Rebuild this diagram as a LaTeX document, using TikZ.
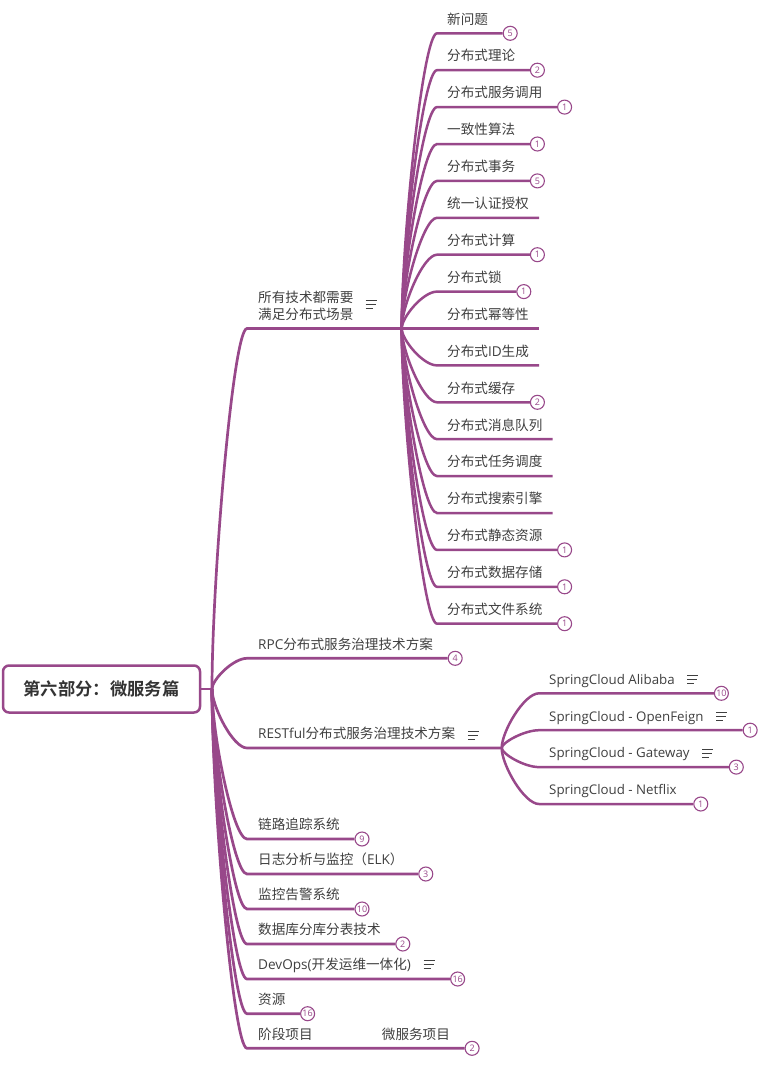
\documentclass[tikz,border=0pt]{standalone}
\usepackage{fontspec}
\setmainfont{Noto Sans CJK SC}[BoldFont={Noto Sans CJK SC Bold}]
\newfontfamily\latin{Open Sans}
\usepackage{tikz}
\usetikzlibrary{positioning, calc}

\definecolor{mindpurple}{RGB}{152,72,138}
\definecolor{topictext}{HTML}{3F3F3F}
\definecolor{roottext}{HTML}{333333}

\tikzset{
  topicbase/.style={anchor=south west, inner xsep=10pt, text=topictext,
    font=\fontsize{13.6}{17}\selectfont},
  topic/.style={topicbase, inner ysep=6pt, text height=10pt, text depth=3pt},
  maintopic/.style={topic, inner xsep=11pt},
  springtopic/.style={topic, font=\latin\fontsize{13.3}{17}\selectfont},
  rootbox/.style={draw=mindpurple, line width=2.5pt, rounded corners=6pt, fill=white,
    minimum width=197pt, minimum height=47pt, text=roottext,
    font=\bfseries\fontsize{17.3}{20}\selectfont},
  branch/.style={draw=mindpurple, line width=2.7pt},
  subbranch/.style={draw=mindpurple, line width=2.5pt},
  mindcurve/.style={to path={.. controls ($(\tikztostart)!0.3!(\tikztostart |- \tikztotarget)$)
    and ($(\tikztostart |- \tikztotarget)!0.6!(\tikztotarget)$) .. (\tikztotarget)}},
  count/.style={circle, draw=mindpurple, fill=white, line width=1.1pt, minimum size=14pt,
    inner sep=0pt, text=mindpurple, font=\latin\fontsize{9}{9}\selectfont},
  noteicon/.pic={\draw[topictext, line width=1pt] (0,-4) -- (11,-4) (0,0) -- (10,0) (0,4) -- (7,4);}
}

\begin{document}
\begin{tikzpicture}[x=1pt, y=-1pt]
  \useasboundingbox (0,0) rectangle (779,1070);

  % Root
  \node[rootbox] (root) at (101.5,689) {第六部分：微服务篇};
  \coordinate (trunk) at (212,689);
  \draw[branch] (root.east) -- (trunk);

  % Distributed scenes
  \node[topicbase, inner xsep=11pt, inner ysep=7.5pt, align=left] (scene) at (247,328.5) {所有技术都需要\\满足分布式场景};
  \coordinate (scenehub) at (401.7,328.5);
  \draw[branch] (trunk) to[mindcurve] (scene.south west) -- (scenehub);
  \pic at ([shift={(1,-24.5)}]scene.south east) {noteicon};

  \node[topic] (newq) at (437,33.3) {新问题};
  \node[count] (newqc) at ([xshift=12pt]newq.south east) {5};
  \draw[subbranch] (scenehub) to[mindcurve] (newq.south west) -- (newqc.west);
  \node[topic] (theory) at (437,70.2) {分布式理论};
  \node[count] (theoryc) at ([xshift=12pt]theory.south east) {2};
  \draw[subbranch] (scenehub) to[mindcurve] (theory.south west) -- (theoryc.west);
  \node[topic] (call) at (437,107.1) {分布式服务调用};
  \node[count] (callc) at ([xshift=12pt]call.south east) {1};
  \draw[subbranch] (scenehub) to[mindcurve] (call.south west) -- (callc.west);
  \node[topic] (consensus) at (437,144.0) {一致性算法};
  \node[count] (consensusc) at ([xshift=12pt]consensus.south east) {1};
  \draw[subbranch] (scenehub) to[mindcurve] (consensus.south west) -- (consensusc.west);
  \node[topic] (tx) at (437,180.9) {分布式事务};
  \node[count] (txc) at ([xshift=12pt]tx.south east) {5};
  \draw[subbranch] (scenehub) to[mindcurve] (tx.south west) -- (txc.west);
  \node[topic] (auth) at (437,217.8) {统一认证授权};
  \draw[subbranch] (scenehub) to[mindcurve] (auth.south west) -- (auth.south east);
  \node[topic] (compute) at (437,254.7) {分布式计算};
  \node[count] (computec) at ([xshift=12pt]compute.south east) {1};
  \draw[subbranch] (scenehub) to[mindcurve] (compute.south west) -- (computec.west);
  \node[topic] (lock) at (437,291.6) {分布式锁};
  \node[count] (lockc) at ([xshift=12pt]lock.south east) {1};
  \draw[subbranch] (scenehub) to[mindcurve] (lock.south west) -- (lockc.west);
  \node[topic] (idem) at (437,328.5) {分布式幂等性};
  \draw[subbranch] (scenehub) -- (idem.south west) -- (idem.south east);
  \node[topic] (idgen) at (437,365.4) {分布式{\latin ID}生成};
  \draw[subbranch] (scenehub) to[mindcurve] (idgen.south west) -- (idgen.south east);
  \node[topic] (cache) at (437,402.3) {分布式缓存};
  \node[count] (cachec) at ([xshift=12pt]cache.south east) {2};
  \draw[subbranch] (scenehub) to[mindcurve] (cache.south west) -- (cachec.west);
  \node[topic] (mq) at (437,439.2) {分布式消息队列};
  \draw[subbranch] (scenehub) to[mindcurve] (mq.south west) -- (mq.south east);
  \node[topic] (sched) at (437,476.1) {分布式任务调度};
  \draw[subbranch] (scenehub) to[mindcurve] (sched.south west) -- (sched.south east);
  \node[topic] (search) at (437,513.0) {分布式搜索引擎};
  \draw[subbranch] (scenehub) to[mindcurve] (search.south west) -- (search.south east);
  \node[topic] (static) at (437,549.9) {分布式静态资源};
  \node[count] (staticc) at ([xshift=12pt]static.south east) {1};
  \draw[subbranch] (scenehub) to[mindcurve] (static.south west) -- (staticc.west);
  \node[topic] (store) at (437,586.8) {分布式数据存储};
  \node[count] (storec) at ([xshift=12pt]store.south east) {1};
  \draw[subbranch] (scenehub) to[mindcurve] (store.south west) -- (storec.west);
  \node[topic] (fs) at (437,623.7) {分布式文件系统};
  \node[count] (fsc) at ([xshift=12pt]fs.south east) {1};
  \draw[subbranch] (scenehub) to[mindcurve] (fs.south west) -- (fsc.west);

  % RPC
  \node[maintopic] (rpc) at (247,658.3) {{\latin RPC}分布式服务治理技术方案};
  \node[count] (rpcc) at ([xshift=11pt]rpc.south east) {4};
  \draw[branch] (trunk) to[mindcurve] (rpc.south west) -- (rpcc.west);

  % RESTful and SpringCloud
  \node[maintopic] (rest) at (247,748) {{\latin RESTful}分布式服务治理技术方案};
  \coordinate (resthub) at (501.7,748);
  \draw[branch] (trunk) to[mindcurve] (rest.south west) -- (resthub);
  \pic at ([shift={(1.5,-13)}]rest.south east) {noteicon};

  \node[springtopic] (alibaba) at (539,693.3) {SpringCloud Alibaba};
  \pic at ([shift={(2.5,-14)}]alibaba.south east) {noteicon};
  \node[count] (alibabac) at ([xshift=36.5pt]alibaba.south east) {10};
  \draw[subbranch] (resthub) to[mindcurve] (alibaba.south west) -- (alibabac.west);
  \node[springtopic] (feign) at (539,730.2) {SpringCloud - OpenFeign};
  \pic at ([shift={(2.5,-14)}]feign.south east) {noteicon};
  \node[count] (feignc) at ([xshift=36.5pt]feign.south east) {1};
  \draw[subbranch] (resthub) to[mindcurve] (feign.south west) -- (feignc.west);
  \node[springtopic] (gateway) at (539,767.1) {SpringCloud - Gateway};
  \pic at ([shift={(2.5,-14)}]gateway.south east) {noteicon};
  \node[count] (gatewayc) at ([xshift=36.5pt]gateway.south east) {3};
  \draw[subbranch] (resthub) to[mindcurve] (gateway.south west) -- (gatewayc.west);
  \node[springtopic] (netflix) at (539,804.0) {SpringCloud - Netflix};
  \node[count] (netflixc) at ([xshift=14pt]netflix.south east) {1};
  \draw[subbranch] (resthub) to[mindcurve] (netflix.south west) -- (netflixc.west);

  % Lower topics
  \node[maintopic] (trace) at (247,839) {链路追踪系统};
  \node[count] (tracec) at ([xshift=11pt]trace.south east) {9};
  \draw[branch] (trunk) to[mindcurve] (trace.south west) -- (tracec.west);
  \node[maintopic] (elk) at (247,874) {日志分析与监控（{\latin ELK}）};
  \node[count] (elkc) at ([xshift=11pt]elk.south east) {3};
  \draw[branch] (trunk) to[mindcurve] (elk.south west) -- (elkc.west);
  \node[maintopic] (alarm) at (247,909) {监控告警系统};
  \node[count] (alarmc) at ([xshift=11pt]alarm.south east) {10};
  \draw[branch] (trunk) to[mindcurve] (alarm.south west) -- (alarmc.west);
  \node[maintopic] (shard) at (247,944) {数据库分库分表技术};
  \node[count] (shardc) at ([xshift=11pt]shard.south east) {2};
  \draw[branch] (trunk) to[mindcurve] (shard.south west) -- (shardc.west);
  \node[maintopic] (devops) at (247,979) {{\latin DevOps(}开发运维一体化{\latin )}};
  \pic at ([shift={(1.5,-15)}]devops.south east) {noteicon};
  \node[count] (devopsc) at ([xshift=35.5pt]devops.south east) {16};
  \draw[branch] (trunk) to[mindcurve] (devops.south west) -- (devopsc.west);
  \node[maintopic] (res) at (247,1013.7) {资源};
  \node[count] (resc) at ([xshift=11pt]res.south east) {16};
  \draw[branch] (trunk) to[mindcurve] (res.south west) -- (resc.west);
  \node[maintopic] (stage) at (247,1048.3) {阶段项目};
  \node[maintopic] (project) at (370.7,1048.3) {微服务项目};
  \node[count] (stagec) at ([xshift=11pt]project.south east) {2};
  \draw[branch] (trunk) to[mindcurve] (stage.south west) -- (stagec.west);

\end{tikzpicture}
\end{document}
